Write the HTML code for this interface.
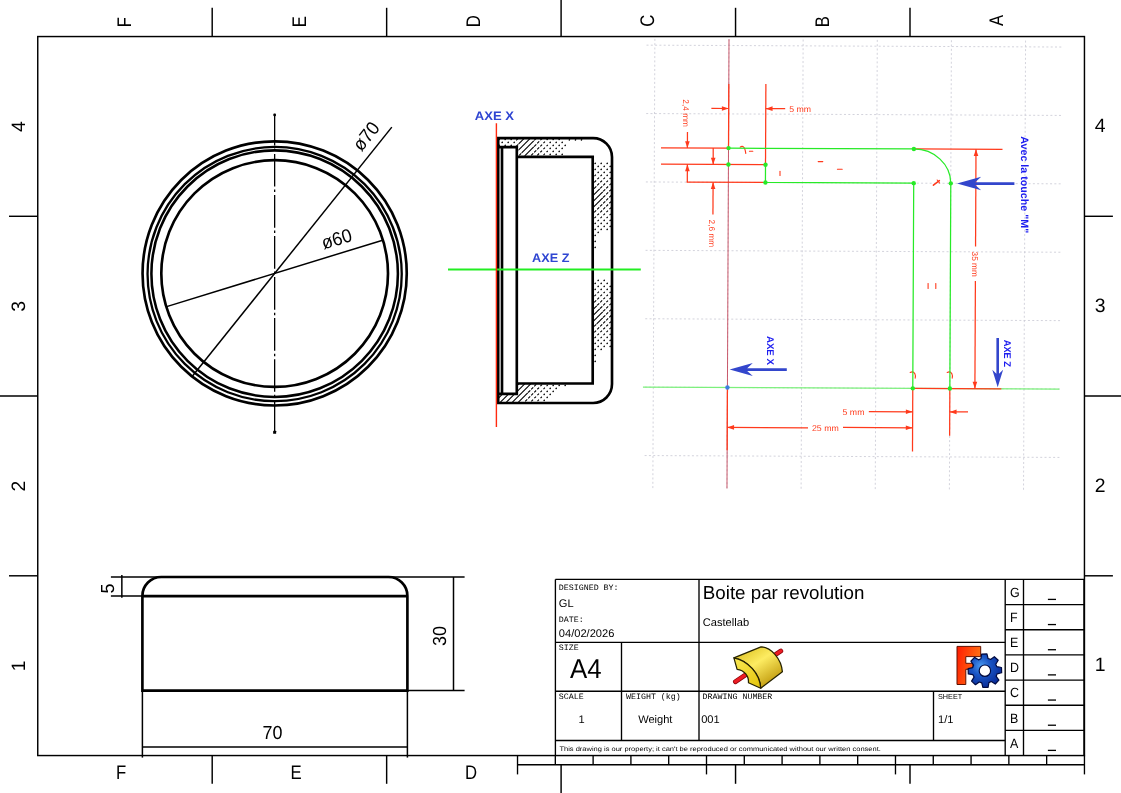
<!DOCTYPE html>
<html><head><meta charset="utf-8"><title>Boite par revolution</title>
<style>
html,body{margin:0;padding:0;background:#fff;}
svg{display:block;will-change:transform;}
text{font-family:"Liberation Sans",sans-serif;fill:#000;text-rendering:geometricPrecision;}
.k1{stroke:#000;stroke-width:1.5;fill:none;}
.lab text{font-size:19.4px;}
.dim{font-size:18.9px;}
.axl{font-size:12.2px;font-weight:bold;fill:#3046d2;}
.m{font-family:"Liberation Mono",monospace;font-size:8.3px;}
.s11{font-size:11.1px;}
</style></head><body>
<svg width="1121" height="793" viewBox="0 0 1121 793">
<rect x="0" y="0" width="1121" height="793" fill="#fff"/>
<g class="k1" style="stroke-width:1.45">
<rect x="37.75" y="36.55" width="1046.70" height="719.00" fill="none"/>
<line x1="212.20" y1="7.80" x2="212.20" y2="36.55"/>
<line x1="386.65" y1="7.80" x2="386.65" y2="36.55"/>
<line x1="561.10" y1="0.00" x2="561.10" y2="36.55"/>
<line x1="735.55" y1="7.80" x2="735.55" y2="36.55"/>
<line x1="910.00" y1="7.80" x2="910.00" y2="36.55"/>
<line x1="212.20" y1="755.55" x2="212.20" y2="783.80"/>
<line x1="386.65" y1="755.55" x2="386.65" y2="783.80"/>
<line x1="561.10" y1="764.70" x2="561.10" y2="793.00"/>
<line x1="735.55" y1="764.70" x2="735.55" y2="783.80"/>
<line x1="910.00" y1="764.70" x2="910.00" y2="783.80"/>
<line x1="9.00" y1="216.30" x2="37.75" y2="216.30"/>
<line x1="1084.45" y1="216.30" x2="1112.90" y2="216.30"/>
<line x1="0.00" y1="396.05" x2="37.75" y2="396.05"/>
<line x1="1084.45" y1="396.05" x2="1121.00" y2="396.05"/>
<line x1="9.00" y1="575.80" x2="37.75" y2="575.80"/>
<line x1="1084.45" y1="575.80" x2="1112.90" y2="575.80"/>
</g>
<g class="lab">
<text transform="translate(131.08,27.25) rotate(-90) scale(0.85,1)" style="font-size:19.7px">F</text>
<text transform="translate(116.08,778.55) scale(0.85,1)" style="font-size:19.7px">F</text>
<text transform="translate(305.53,27.25) rotate(-90) scale(0.85,1)" style="font-size:19.7px">E</text>
<text transform="translate(290.53,778.55) scale(0.85,1)" style="font-size:19.7px">E</text>
<text transform="translate(479.98,27.25) rotate(-90) scale(0.85,1)" style="font-size:19.7px">D</text>
<text transform="translate(464.98,778.55) scale(0.85,1)" style="font-size:19.7px">D</text>
<text transform="translate(654.43,26.7) rotate(-90) scale(0.85,1)" style="font-size:19.7px">C</text>
<text transform="translate(828.88,27.25) rotate(-90) scale(0.85,1)" style="font-size:19.7px">B</text>
<text transform="translate(1003.33,25.9) rotate(-90) scale(0.85,1)" style="font-size:19.7px">A</text>
<text transform="translate(25.4,126.63) rotate(-90)" text-anchor="middle">4</text>
<text x="1100.1" y="132.23" text-anchor="middle">4</text>
<text transform="translate(25.4,306.38) rotate(-90)" text-anchor="middle">3</text>
<text x="1100.1" y="311.98" text-anchor="middle">3</text>
<text transform="translate(25.4,486.12) rotate(-90)" text-anchor="middle">2</text>
<text x="1100.1" y="491.72" text-anchor="middle">2</text>
<text transform="translate(25.4,665.88) rotate(-90)" text-anchor="middle">1</text>
<text x="1100.1" y="671.47" text-anchor="middle">1</text>
</g>
<g fill="none" stroke="#000">
<circle cx="274.65" cy="273.40" r="132.1" stroke-width="2.65"/>
<circle cx="274.65" cy="274.05" r="127.1" stroke-width="2.3"/>
<circle cx="274.65" cy="273.65" r="123.25" stroke-width="2.55"/>
<circle cx="274.65" cy="273.55" r="113.35" stroke-width="2.65"/>
<line x1="274.65" y1="114.6" x2="274.65" y2="432.4" stroke-width="1.3" stroke-dasharray="32.7 2.9 2.5 2.95" stroke-dashoffset="1.75"/>
</g>
<rect x="273.35" y="113.6" width="2.6" height="2.6" rx="0.8"/>
<rect x="273.15" y="430.8" width="3.0" height="3.0" rx="0.4"/>
<g class="k1">
<line x1="192.09" y1="376.46" x2="391.82" y2="127.15"/>
<line x1="166.65" y1="306.63" x2="382.65" y2="240.17"/>
</g>
<text class="dim" transform="translate(371.13,140.17) rotate(-51.3) scale(0.95,1)" text-anchor="middle">ø70</text>
<text class="dim" transform="translate(338.54,245.06) rotate(-17.1) scale(0.95,1)" text-anchor="middle">ø60</text>
<g fill="none" stroke="#000" stroke-width="2.65" stroke-linejoin="miter">
<path d="M142.4,690.6 L142.4,596.1 L142.4,595.9 A18.9,18.9 0 0 1 161.3,577.0 L388.5,577.0 A18.9,18.9 0 0 1 407.4,595.9 L407.4,690.6 Z"/>
<line x1="142.40" y1="596.10" x2="407.40" y2="596.10"/>
</g>
<g class="k1">
<line x1="110.90" y1="577.00" x2="161.30" y2="577.00"/>
<line x1="110.90" y1="596.10" x2="142.40" y2="596.10"/>
<line x1="121.85" y1="575.00" x2="121.85" y2="597.80"/>
<line x1="388.50" y1="577.00" x2="464.60" y2="577.00"/>
<line x1="407.40" y1="690.60" x2="464.60" y2="690.60"/>
<line x1="453.50" y1="577.00" x2="453.50" y2="690.60"/>
<line x1="142.40" y1="690.60" x2="142.40" y2="757.60"/>
<line x1="407.40" y1="690.60" x2="407.40" y2="757.60"/>
<line x1="142.40" y1="747.00" x2="407.40" y2="747.00"/>
</g>
<text class="dim" transform="translate(272.5,739.1) scale(0.95,1)" text-anchor="middle">70</text>
<text class="dim" transform="translate(445.65,636.0) rotate(-90) scale(0.95,1)" text-anchor="middle">30</text>
<text class="dim" transform="translate(113.8,588.6) rotate(-90) scale(0.95,1)" text-anchor="middle">5</text>
<defs><clipPath id="mat"><path clip-rule="evenodd" d="M498.2,138.1 L593.1,138.1 A18.9,18.9 0 0 1 612.0,157.0 L612.0,384.1 A18.9,18.9 0 0 1 593.1,403.0 L498.2,403.0 L498.2,393.8 L516.8,393.8 L516.8,383.5 L592.7,383.5 L592.7,156.9 L516.8,156.9 L516.8,147.1 L498.2,147.1 Z"/></clipPath></defs>
<g clip-path="url(#mat)"><path d="M519.41,131.19L520.99,129.61M525.36,131.24L527.04,129.56M531.40,131.20L533.00,129.60M537.52,131.08L538.88,129.72M516.36,134.24L518.04,132.56M522.25,134.35L524.15,132.45M528.25,134.35L530.15,132.45M534.35,134.25L536.05,132.55M540.51,134.09L541.89,132.71M519.19,137.41L521.21,135.39M525.11,137.49L527.29,135.31M531.18,137.42L533.22,135.38M537.34,137.26L539.06,135.54M543.54,137.06L544.86,135.74M516.19,140.41L518.21,138.39M521.66,140.94L524.74,137.86M527.66,140.94L530.74,137.86M534.17,140.43L536.23,138.37M540.38,140.22L542.02,138.58M518.66,143.94L521.74,140.86M524.66,143.94L527.74,140.86M530.66,143.94L533.74,140.86M537.22,143.38L539.18,141.42M543.46,143.14L544.94,141.66M516.10,146.50L518.30,144.30M521.66,146.94L524.74,143.86M527.66,146.94L530.74,143.86M534.08,146.52L536.32,144.28M540.32,146.28L542.08,144.52M546.57,146.03L547.83,144.77M507.47,149.13L508.93,147.67M513.23,149.37L515.17,147.43M518.66,149.94L521.74,146.86M524.66,149.94L527.74,146.86M530.66,149.94L533.74,146.86M537.21,149.39L539.19,147.41M543.45,149.15L544.95,147.65M510.38,152.22L512.02,150.58M516.16,152.44L518.24,150.36M521.66,152.94L524.74,149.86M527.66,152.94L530.74,149.86M534.14,152.46L536.26,150.34M540.36,152.24L542.04,150.56M546.59,152.01L547.81,150.79M507.54,155.06L508.86,153.74M513.33,155.27L515.07,153.53M519.15,155.45L521.25,153.35M524.66,155.94L527.74,152.86M531.14,155.46L533.26,153.34M537.31,155.29L539.09,153.51M543.52,155.08L544.88,153.72M510.50,158.10L511.90,156.70M516.32,158.28L518.08,156.52M522.21,158.39L524.19,156.41M528.20,158.40L530.20,156.40M534.31,158.29L536.09,156.51M540.48,158.12L541.92,156.68M594.50,176.10L595.90,174.70M600.54,176.06L601.86,174.74M591.39,179.21L593.01,177.59M597.41,179.19L598.99,177.61M603.48,179.12L604.92,177.68M594.29,182.31L596.11,180.49M600.34,182.26L602.06,180.54M606.46,182.14L607.94,180.66M591.18,185.42L593.22,183.38M597.20,185.40L599.20,183.40M603.31,185.29L605.09,183.51M609.46,185.14L610.94,183.66M594.07,188.53L596.33,186.27M600.16,188.44L602.24,186.36M606.31,188.29L608.09,186.51M612.49,188.11L613.91,186.69M590.66,191.94L593.74,188.86M596.66,191.94L599.74,188.86M603.16,191.44L605.24,189.36M609.35,191.25L611.05,189.55M593.66,194.94L596.74,191.86M599.66,194.94L602.74,191.86M606.22,194.38L608.18,192.42M612.42,194.18L613.98,192.62M590.66,197.94L593.74,194.86M596.66,197.94L599.74,194.86M603.09,197.51L605.31,195.29M609.31,197.29L611.09,195.51M593.66,200.94L596.74,197.86M599.66,200.94L602.74,197.86M606.21,200.39L608.19,198.41M612.42,200.18L613.98,198.62M590.66,203.94L593.74,200.86M596.66,203.94L599.74,200.86M603.14,203.46L605.26,201.34M609.34,203.26L611.06,201.54M593.66,206.94L596.74,203.86M600.12,206.48L602.28,204.32M606.29,206.31L608.11,204.49M612.47,206.13L613.93,204.67M591.14,209.46L593.26,207.34M597.16,209.44L599.24,207.36M603.27,209.33L605.13,207.47M609.43,209.17L610.97,207.63M594.24,212.36L596.16,210.44M600.30,212.30L602.10,210.50M606.42,212.18L607.98,210.62M612.58,212.02L613.82,210.78M591.35,215.25L593.05,213.55M597.37,215.23L599.03,213.57M603.45,215.15L604.95,213.65M609.57,215.03L610.83,213.77M594.46,218.14L595.94,216.66M600.50,218.10L601.90,216.70M606.59,218.01L607.81,216.79M591.56,221.04L592.84,219.76M597.57,221.03L598.83,219.77M591.52,293.08L592.88,291.72M597.53,293.07L598.87,291.73M603.59,293.01L604.81,291.79M594.41,296.19L595.99,294.61M600.45,296.15L601.95,294.65M606.55,296.05L607.85,294.75M591.31,299.29L593.09,297.51M597.32,299.28L599.08,297.52M603.41,299.19L604.99,297.61M609.54,299.06L610.86,297.74M594.20,302.40L596.20,300.40M600.26,302.34L602.14,300.46M606.39,302.21L608.01,300.59M612.55,302.05L613.85,300.75M591.10,305.50L593.30,303.30M597.12,305.48L599.28,303.32M603.24,305.36L605.16,303.44M609.41,305.19L610.99,303.61M593.66,308.94L596.74,305.86M600.09,308.51L602.31,306.29M606.26,308.34L608.14,306.46M612.46,308.14L613.94,306.66M590.66,311.94L593.74,308.86M596.66,311.94L599.74,308.86M603.12,311.48L605.28,309.32M609.32,311.28L611.08,309.52M593.66,314.94L596.74,311.86M599.66,314.94L602.74,311.86M606.20,314.40L608.20,312.40M612.41,314.19L613.99,312.61M590.66,317.94L593.74,314.86M596.66,317.94L599.74,314.86M603.10,317.50L605.30,315.30M609.31,317.29L611.09,315.51M593.66,320.94L596.74,317.86M599.66,320.94L602.74,317.86M606.23,320.37L608.17,318.43M612.43,320.17L613.97,318.63M590.66,323.94L593.74,320.86M596.66,323.94L599.74,320.86M603.19,323.41L605.21,321.39M609.37,323.23L611.03,321.57M594.12,326.48L596.28,324.32M600.19,326.41L602.21,324.39M606.34,326.26L608.06,324.54M612.51,326.09L613.89,324.71M591.23,329.37L593.17,327.43M597.25,329.35L599.15,327.45M603.34,329.26L605.06,327.54M609.49,329.11L610.91,327.69M594.33,332.27L596.07,330.53M600.38,332.22L602.02,330.58M606.49,332.11L607.91,330.69M591.44,335.16L592.96,333.64M597.45,335.15L598.95,333.65M603.52,335.08L604.88,333.72M594.54,338.06L595.86,336.74M600.58,338.02L601.82,336.78M494.66,383.94L497.74,380.86M500.66,383.94L503.74,380.86M506.66,383.94L509.74,380.86M512.66,383.94L515.74,380.86M518.66,383.94L521.74,380.86M524.66,383.94L527.74,380.86M531.07,383.53L533.33,381.27M537.26,383.34L539.14,381.46M543.44,383.16L544.96,381.64M497.66,386.94L500.74,383.86M503.66,386.94L506.74,383.86M509.66,386.94L512.74,383.86M515.66,386.94L518.74,383.86M521.66,386.94L524.74,383.86M527.66,386.94L530.74,383.86M534.21,386.39L536.19,384.41M540.39,386.21L542.01,384.59M546.58,386.02L547.82,384.78M494.66,389.94L497.74,386.86M500.66,389.94L503.74,386.86M506.66,389.94L509.74,386.86M512.66,389.94L515.74,386.86M518.66,389.94L521.74,386.86M524.66,389.94L527.74,386.86M531.15,389.45L533.25,387.35M537.34,389.26L539.06,387.54M543.53,389.07L544.87,387.73M497.66,392.94L500.74,389.86M503.66,392.94L506.74,389.86M509.66,392.94L512.74,389.86M515.66,392.94L518.74,389.86M521.66,392.94L524.74,389.86M528.10,392.50L530.30,390.30M534.29,392.31L536.11,390.49M540.48,392.12L541.92,390.68M494.66,395.94L497.74,392.86M500.66,395.94L503.74,392.86M506.66,395.94L509.74,392.86M512.66,395.94L515.74,392.86M518.66,395.94L521.74,392.86M524.66,395.94L527.74,392.86M531.24,395.36L533.16,393.44M537.43,395.17L538.97,393.63M497.66,398.94L500.74,395.86M503.66,398.94L506.74,395.86M509.66,398.94L512.74,395.86M515.66,398.94L518.74,395.86M521.66,398.94L524.74,395.86M528.19,398.41L530.21,396.39M534.38,398.22L536.02,396.58M540.56,398.04L541.84,396.76M494.66,401.94L497.74,398.86M500.66,401.94L503.74,398.86M506.66,401.94L509.74,398.86M512.66,401.94L515.74,398.86M518.66,401.94L521.74,398.86M525.14,401.46L527.26,399.34M531.33,401.27L533.07,399.53M537.51,401.09L538.89,399.71M497.66,404.94L500.74,401.86M503.66,404.94L506.74,401.86M509.66,404.94L512.74,401.86M515.66,404.94L518.74,401.86M522.09,404.51L524.31,402.29M528.28,404.32L530.12,402.48M534.46,404.14L535.94,402.66M494.66,407.94L497.74,404.86M500.66,407.94L503.74,404.86M506.66,407.94L509.74,404.86M512.66,407.94L515.74,404.86M518.66,407.94L521.74,404.86M525.23,407.37L527.17,405.43M531.41,407.19L532.99,405.61M497.66,410.94L500.74,407.86M503.66,410.94L506.74,407.86M509.66,410.94L512.74,407.86M515.66,410.94L518.74,407.86M522.18,410.42L524.22,408.38M528.36,410.24L530.04,408.56M534.55,410.05L535.85,408.75M494.66,413.94L497.74,410.86M500.66,413.94L503.74,410.86M506.66,413.94L509.74,410.86M512.66,413.94L515.74,410.86M519.12,413.48L521.28,411.32M525.31,413.29L527.09,411.51M531.50,413.10L532.90,411.70M497.66,416.94L500.74,413.86M503.66,416.94L506.74,413.86M509.66,416.94L512.74,413.86M516.07,416.53L518.33,414.27M522.26,416.34L524.14,414.46M528.45,416.15L529.95,414.65M494.66,419.94L497.74,416.86M500.66,419.94L503.74,416.86M506.66,419.94L509.74,416.86M512.66,419.94L515.74,416.86M519.21,419.39L521.19,417.41M525.40,419.20L527.00,417.60M531.59,419.01L532.81,417.79M497.66,422.94L500.74,419.86M503.66,422.94L506.74,419.86M509.66,422.94L512.74,419.86M516.16,422.44L518.24,420.36M522.35,422.25L524.05,420.55M528.53,422.07L529.87,420.73M494.66,425.94L497.74,422.86M500.66,425.94L503.74,422.86M506.66,425.94L509.74,422.86M513.11,425.49L515.29,423.31M519.30,425.30L521.10,423.50M525.48,425.12L526.92,423.68" stroke="#000" stroke-width="1.1" fill="none" stroke-linecap="butt"/>
<path d="M496.08,130.52l0.24,-0.24M502.08,130.52l0.24,-0.24M508.08,130.52l0.24,-0.24M514.08,130.52l0.24,-0.24M544.08,130.52l0.24,-0.24M550.08,130.52l0.24,-0.24M556.08,130.52l0.24,-0.24M562.08,130.52l0.24,-0.24M499.08,133.52l0.24,-0.24M505.08,133.52l0.24,-0.24M511.08,133.52l0.24,-0.24M547.08,133.52l0.24,-0.24M553.08,133.52l0.24,-0.24M559.08,133.52l0.24,-0.24M496.08,136.52l0.24,-0.24M502.08,136.52l0.24,-0.24M508.08,136.52l0.24,-0.24M514.08,136.52l0.24,-0.24M550.08,136.52l0.24,-0.24M556.08,136.52l0.24,-0.24M562.08,136.52l0.24,-0.24M499.08,139.52l0.24,-0.24M505.08,139.52l0.24,-0.24M511.08,139.52l0.24,-0.24M547.08,139.52l0.24,-0.24M553.08,139.52l0.24,-0.24M559.08,139.52l0.24,-0.24M496.08,142.52l0.24,-0.24M502.08,142.52l0.24,-0.24M508.08,142.52l0.24,-0.24M514.08,142.52l0.24,-0.24M550.08,142.52l0.24,-0.24M556.08,142.52l0.24,-0.24M562.08,142.52l0.24,-0.24M499.08,145.52l0.24,-0.24M505.08,145.52l0.24,-0.24M511.08,145.52l0.24,-0.24M553.08,145.52l0.24,-0.24M559.08,145.52l0.24,-0.24M565.08,145.52l0.24,-0.24M496.08,148.52l0.24,-0.24M502.08,148.52l0.24,-0.24M550.08,148.52l0.24,-0.24M556.08,148.52l0.24,-0.24M562.08,148.52l0.24,-0.24M499.08,151.52l0.24,-0.24M505.08,151.52l0.24,-0.24M553.08,151.52l0.24,-0.24M559.08,151.52l0.24,-0.24M496.08,154.52l0.24,-0.24M502.08,154.52l0.24,-0.24M550.08,154.52l0.24,-0.24M556.08,154.52l0.24,-0.24M562.08,154.52l0.24,-0.24M499.08,157.52l0.24,-0.24M505.08,157.52l0.24,-0.24M547.08,157.52l0.24,-0.24M553.08,157.52l0.24,-0.24M559.08,157.52l0.24,-0.24M595.08,163.52l0.24,-0.24M601.08,163.52l0.24,-0.24M607.08,163.52l0.24,-0.24M592.08,166.52l0.24,-0.24M598.08,166.52l0.24,-0.24M604.08,166.52l0.24,-0.24M610.08,166.52l0.24,-0.24M595.08,169.52l0.24,-0.24M601.08,169.52l0.24,-0.24M607.08,169.52l0.24,-0.24M613.08,169.52l0.24,-0.24M592.08,172.52l0.24,-0.24M598.08,172.52l0.24,-0.24M604.08,172.52l0.24,-0.24M610.08,172.52l0.24,-0.24M607.08,175.52l0.24,-0.24M613.08,175.52l0.24,-0.24M610.08,178.52l0.24,-0.24M613.08,181.52l0.24,-0.24M613.08,217.52l0.24,-0.24M604.08,220.52l0.24,-0.24M610.08,220.52l0.24,-0.24M595.08,223.52l0.24,-0.24M601.08,223.52l0.24,-0.24M607.08,223.52l0.24,-0.24M613.08,223.52l0.24,-0.24M592.08,226.52l0.24,-0.24M598.08,226.52l0.24,-0.24M604.08,226.52l0.24,-0.24M610.08,226.52l0.24,-0.24M595.08,229.52l0.24,-0.24M601.08,229.52l0.24,-0.24M607.08,229.52l0.24,-0.24M592.08,232.52l0.24,-0.24M598.08,232.52l0.24,-0.24M595.08,235.52l0.24,-0.24M595.08,241.52l0.24,-0.24M595.08,247.52l0.24,-0.24M592.08,280.52l0.24,-0.24M598.08,280.52l0.24,-0.24M604.08,280.52l0.24,-0.24M595.08,283.52l0.24,-0.24M601.08,283.52l0.24,-0.24M607.08,283.52l0.24,-0.24M592.08,286.52l0.24,-0.24M598.08,286.52l0.24,-0.24M604.08,286.52l0.24,-0.24M610.08,286.52l0.24,-0.24M595.08,289.52l0.24,-0.24M601.08,289.52l0.24,-0.24M607.08,289.52l0.24,-0.24M613.08,289.52l0.24,-0.24M610.08,292.52l0.24,-0.24M613.08,295.52l0.24,-0.24M613.08,331.52l0.24,-0.24M610.08,334.52l0.24,-0.24M607.08,337.52l0.24,-0.24M613.08,337.52l0.24,-0.24M592.08,340.52l0.24,-0.24M598.08,340.52l0.24,-0.24M604.08,340.52l0.24,-0.24M610.08,340.52l0.24,-0.24M595.08,343.52l0.24,-0.24M601.08,343.52l0.24,-0.24M607.08,343.52l0.24,-0.24M613.08,343.52l0.24,-0.24M592.08,346.52l0.24,-0.24M598.08,346.52l0.24,-0.24M604.08,346.52l0.24,-0.24M610.08,346.52l0.24,-0.24M595.08,349.52l0.24,-0.24M601.08,349.52l0.24,-0.24M595.08,355.52l0.24,-0.24M595.08,361.52l0.24,-0.24M550.08,382.52l0.24,-0.24M556.08,382.52l0.24,-0.24M562.08,382.52l0.24,-0.24M568.08,382.52l0.24,-0.24M553.08,385.52l0.24,-0.24M559.08,385.52l0.24,-0.24M565.08,385.52l0.24,-0.24M550.08,388.52l0.24,-0.24M556.08,388.52l0.24,-0.24M547.08,391.52l0.24,-0.24M553.08,391.52l0.24,-0.24M544.08,394.52l0.24,-0.24M550.08,394.52l0.24,-0.24M547.08,397.52l0.24,-0.24M544.08,400.52l0.24,-0.24M541.08,403.52l0.24,-0.24M538.08,406.52l0.24,-0.24M569.28,140.02l0.24,-0.24M575.38,140.02l0.24,-0.24M581.38,140.02l0.24,-0.24" stroke="#000" stroke-width="1.35" fill="none" stroke-linecap="round"/></g>
<g fill="none" stroke="#000" stroke-width="2.65" stroke-linejoin="miter">
<path d="M498.2,138.1 L593.1,138.1 A18.9,18.9 0 0 1 612.0,157.0 L612.0,384.1 A18.9,18.9 0 0 1 593.1,403.0 L498.2,403.0 Z"/>
<path d="M498.2,147.1 L516.8,147.1 L516.8,393.8 L498.2,393.8"/>
<path d="M516.8,156.9 L592.7,156.9 L592.7,383.5 L516.8,383.5"/>
<line x1="502.00" y1="147.10" x2="502.00" y2="393.80"/>
</g>
<line x1="448" y1="269.5" x2="640.8" y2="269.5" stroke="#22ee22" stroke-width="2.2"/>
<line x1="496.4" y1="123.2" x2="496.4" y2="427" stroke="#ff2a10" stroke-width="1.4"/>
<text class="axl" x="474.8" y="119.8" textLength="39.2" lengthAdjust="spacingAndGlyphs">AXE X</text>
<text class="axl" x="532.1" y="261.5" textLength="37.3" lengthAdjust="spacingAndGlyphs">AXE Z</text>
<g stroke="#cbcbd6" stroke-width="0.85" stroke-dasharray="2.0 2.3" fill="none">
<line x1="654.87" y1="38.89" x2="652.84" y2="488.08"/>
<line x1="729.01" y1="39.23" x2="726.97" y2="488.42"/>
<line x1="803.15" y1="39.56" x2="801.11" y2="488.76"/>
<line x1="877.29" y1="39.90" x2="875.25" y2="489.09"/>
<line x1="951.43" y1="40.24" x2="949.39" y2="489.43"/>
<line x1="1025.57" y1="40.57" x2="1023.53" y2="489.77"/>
<line x1="646.50" y1="45.15" x2="1061.49" y2="47.03"/>
<line x1="646.19" y1="113.55" x2="1061.18" y2="115.43"/>
<line x1="645.87" y1="181.95" x2="1060.87" y2="183.83"/>
<line x1="645.56" y1="250.35" x2="1060.56" y2="252.23"/>
<line x1="645.25" y1="318.75" x2="1060.25" y2="320.63"/>
<line x1="644.94" y1="387.15" x2="1059.94" y2="389.03"/>
<line x1="644.63" y1="455.55" x2="1059.63" y2="457.43"/>
</g>
<line x1="729.01" y1="39.23" x2="726.97" y2="488.42" stroke="#c4485c" stroke-width="0.9"/>
<line x1="642.94" y1="387.14" x2="1059.44" y2="389.03" stroke="#7cf07c" stroke-width="1.3"/>
<g stroke="#ff3a1c" stroke-width="1.25" fill="none">
<line x1="728.81" y1="84.00" x2="728.52" y2="148.12"/>
<line x1="765.88" y1="84.00" x2="765.51" y2="164.71"/>
<line x1="661.00" y1="147.82" x2="728.52" y2="148.12"/>
<line x1="661.00" y1="164.23" x2="765.51" y2="164.71"/>
<line x1="686.70" y1="182.14" x2="765.43" y2="182.49"/>
<line x1="913.87" y1="148.97" x2="1002.50" y2="149.37"/>
<line x1="976.00" y1="149.25" x2="975.56" y2="246.40"/>
<line x1="975.40" y1="281.00" x2="974.91" y2="388.65"/>
<line x1="912.78" y1="388.36" x2="1001.40" y2="388.77"/>
<line x1="727.43" y1="387.52" x2="727.15" y2="450.30"/>
<line x1="912.78" y1="388.36" x2="912.49" y2="451.50"/>
<line x1="949.85" y1="388.53" x2="949.64" y2="435.80"/>
<line x1="711.40" y1="108.42" x2="728.70" y2="108.50"/>
<line x1="765.77" y1="108.65" x2="785.20" y2="108.74"/>
<line x1="687.47" y1="132.00" x2="687.40" y2="147.94"/>
<line x1="687.40" y1="164.35" x2="687.30" y2="182.14"/>
<line x1="713.20" y1="148.06" x2="713.20" y2="164.47"/>
<line x1="713.10" y1="182.26" x2="712.95" y2="214.50"/>
<line x1="868.80" y1="411.60" x2="912.67" y2="411.80"/>
<line x1="949.74" y1="411.90" x2="968.00" y2="411.98"/>
<line x1="727.25" y1="427.40" x2="808.00" y2="427.77"/>
<line x1="843.00" y1="427.48" x2="912.60" y2="427.80"/>
</g>
<polygon points="728.70,108.50 721.90,106.20 721.90,110.80" fill="#ff3a1c"/>
<polygon points="765.77,108.65 772.57,106.35 772.57,110.95" fill="#ff3a1c"/>
<polygon points="687.40,147.94 685.10,141.14 689.70,141.14" fill="#ff3a1c"/>
<polygon points="687.40,164.35 685.10,171.15 689.70,171.15" fill="#ff3a1c"/>
<polygon points="713.20,164.47 710.90,157.67 715.50,157.67" fill="#ff3a1c"/>
<polygon points="713.10,182.26 710.80,189.06 715.40,189.06" fill="#ff3a1c"/>
<polygon points="976.00,149.25 973.70,156.05 978.30,156.05" fill="#ff3a1c"/>
<polygon points="974.91,388.65 972.61,381.85 977.21,381.85" fill="#ff3a1c"/>
<polygon points="912.67,411.80 905.87,409.50 905.87,414.10" fill="#ff3a1c"/>
<polygon points="949.74,411.90 956.54,409.60 956.54,414.20" fill="#ff3a1c"/>
<polygon points="727.25,427.40 734.05,425.10 734.05,429.70" fill="#ff3a1c"/>
<polygon points="912.60,427.80 905.80,425.50 905.80,430.10" fill="#ff3a1c"/>
<g style="font-size:8.4px">
<text x="789.3" y="111.9" style="fill:#ff3a1c" textLength="21.8" lengthAdjust="spacingAndGlyphs">5 mm</text>
<text x="842.6" y="414.9" style="fill:#ff3a1c" textLength="21.8" lengthAdjust="spacingAndGlyphs">5 mm</text>
<text x="812" y="430.7" style="fill:#ff3a1c" textLength="26.8" lengthAdjust="spacingAndGlyphs">25 mm</text>
<text transform="translate(683.2,99.3) rotate(90)" style="fill:#ff3a1c" textLength="27.7" lengthAdjust="spacingAndGlyphs">2,4 mm</text>
<text transform="translate(709.0,219.6) rotate(90)" style="fill:#ff3a1c" textLength="27.7" lengthAdjust="spacingAndGlyphs">2,6 mm</text>
<text transform="translate(972.2,251.6) rotate(90)" style="fill:#ff3a1c" textLength="25.2" lengthAdjust="spacingAndGlyphs">35 mm</text>
</g>
<g stroke="#ff3a1c" stroke-width="1.1" fill="none" stroke-linecap="round">
<line x1="818.20" y1="161.60" x2="822.80" y2="161.60"/>
<line x1="837.40" y1="169.20" x2="842.20" y2="169.20"/>
<line x1="780.00" y1="171.40" x2="780.00" y2="175.40"/>
<line x1="749.40" y1="151.30" x2="752.80" y2="151.30"/>
<path d="M740.2,147.2 q2.2,-2.0 4.0,0.6 q1.4,2.4 1.6,5.6"/>
<line x1="933.40" y1="185.20" x2="939.40" y2="180.60" stroke-width="1.5"/>
<line x1="937.20" y1="180.00" x2="939.60" y2="183.00"/>
<line x1="928.10" y1="283.60" x2="928.10" y2="288.40"/>
<line x1="935.80" y1="283.60" x2="935.80" y2="288.40"/>
<path d="M910.2,372.4 q3.0,-1.4 4.6,1.2 q1.0,2.0 0.4,4.6"/>
<path d="M947.2,372.4 q3.0,-1.4 4.6,1.2 q1.0,2.0 0.4,4.6"/>
</g>
<g stroke="#27ea27" stroke-width="1.25" fill="none">
<path d="M728.52,148.12 L913.87,148.97 A37.07,34.20 0.26 0 1 950.78,183.33 L949.85,388.53"/>
<path d="M765.51,164.71 L765.43,182.49 L913.71,183.17 L912.78,388.36"/>
</g>
<g fill="#27ea27">
<circle cx="728.52" cy="148.12" r="2.2"/>
<circle cx="728.44" cy="164.54" r="2.2"/>
<circle cx="765.51" cy="164.71" r="2.2"/>
<circle cx="765.43" cy="182.49" r="2.2"/>
<circle cx="913.87" cy="148.97" r="2.2"/>
<circle cx="913.71" cy="183.17" r="2.2"/>
<circle cx="950.78" cy="183.33" r="2.2"/>
<circle cx="912.78" cy="388.36" r="2.2"/>
<circle cx="949.85" cy="388.53" r="2.2"/>
</g>
<circle cx="727.43" cy="387.52" r="2.2" fill="#3d7fe0"/>
<g fill="#3346cc" stroke="none">
<path d="M957.0,183.5 L981.2,176.7 L975.2,182.2 L1014.4,182.2 L1014.4,184.9 L975.2,184.9 L981.2,190.3 Z"/>
<path d="M729.6,369.5 L752.8,363.1 L747.2,368.2 L786.8,368.2 L786.8,370.9 L747.2,370.9 L752.8,375.9 Z"/>
<path d="M997.7,387.2 L992.3,369.8 L996.4,373.8 L996.4,338.0 L999.0,338.0 L999.0,373.8 L1003.1,369.8 Z"/>
</g>
<text transform="translate(1020.6,136.2) rotate(90)" style="fill:#1c1cf0;font-weight:bold;font-size:10.7px" textLength="97" lengthAdjust="spacingAndGlyphs">Avec la touche "M"</text>
<text transform="translate(1003.8,339.7) rotate(90)" style="fill:#1c1cf0;font-weight:bold;font-size:9.8px" textLength="27.3" lengthAdjust="spacingAndGlyphs">AXE Z</text>
<text transform="translate(767.4,335.9) rotate(90)" style="fill:#1c1cf0;font-weight:bold;font-size:9.8px" textLength="29.1" lengthAdjust="spacingAndGlyphs">AXE X</text>
<g class="k1" style="stroke-width:1.35">
<line x1="555.40" y1="579.40" x2="1084.45" y2="579.40"/>
<line x1="555.40" y1="579.40" x2="555.40" y2="755.55"/>
<line x1="1083.90" y1="579.40" x2="1083.90" y2="755.55" stroke-width="1.2"/>
<line x1="555.40" y1="642.30" x2="1005.20" y2="642.30"/>
<line x1="555.40" y1="691.20" x2="1005.20" y2="691.20"/>
<line x1="555.40" y1="740.50" x2="1005.20" y2="740.50"/>
<line x1="621.50" y1="642.30" x2="621.50" y2="740.50"/>
<line x1="699.00" y1="579.40" x2="699.00" y2="740.50"/>
<line x1="933.50" y1="691.20" x2="933.50" y2="740.50"/>
<line x1="1005.20" y1="579.40" x2="1005.20" y2="755.55"/>
<line x1="1023.50" y1="579.40" x2="1023.50" y2="755.55"/>
<line x1="1005.20" y1="604.56" x2="1084.45" y2="604.56"/>
<line x1="1005.20" y1="629.73" x2="1084.45" y2="629.73"/>
<line x1="1005.20" y1="654.89" x2="1084.45" y2="654.89"/>
<line x1="1005.20" y1="680.06" x2="1084.45" y2="680.06"/>
<line x1="1005.20" y1="705.22" x2="1084.45" y2="705.22"/>
<line x1="1005.20" y1="730.39" x2="1084.45" y2="730.39"/>
<line x1="517.52" y1="764.70" x2="1084.45" y2="764.70"/>
<line x1="517.52" y1="755.55" x2="517.52" y2="774.40"/>
<line x1="555.32" y1="755.55" x2="555.32" y2="764.70"/>
<line x1="593.12" y1="755.55" x2="593.12" y2="764.70"/>
<line x1="630.91" y1="755.55" x2="630.91" y2="764.70"/>
<line x1="668.70" y1="755.55" x2="668.70" y2="764.70"/>
<line x1="706.50" y1="755.55" x2="706.50" y2="774.40"/>
<line x1="744.29" y1="755.55" x2="744.29" y2="764.70"/>
<line x1="782.09" y1="755.55" x2="782.09" y2="764.70"/>
<line x1="819.88" y1="755.55" x2="819.88" y2="764.70"/>
<line x1="857.68" y1="755.55" x2="857.68" y2="764.70"/>
<line x1="895.48" y1="755.55" x2="895.48" y2="774.40"/>
<line x1="933.27" y1="755.55" x2="933.27" y2="764.70"/>
<line x1="971.07" y1="755.55" x2="971.07" y2="764.70"/>
<line x1="1008.86" y1="755.55" x2="1008.86" y2="764.70"/>
<line x1="1046.65" y1="755.55" x2="1046.65" y2="764.70"/>
<line x1="1084.45" y1="755.55" x2="1084.45" y2="774.40"/>
</g>
<text transform="translate(1009.9,596.80) scale(0.93,1)" style="font-size:13.4px">G</text>
<rect x="1047.9" y="598.75" width="8.1" height="1.3" fill="#000"/>
<text transform="translate(1009.9,621.96) scale(0.93,1)" style="font-size:13.4px">F</text>
<rect x="1047.9" y="623.91" width="8.1" height="1.3" fill="#000"/>
<text transform="translate(1009.9,647.13) scale(0.93,1)" style="font-size:13.4px">E</text>
<rect x="1047.9" y="649.08" width="8.1" height="1.3" fill="#000"/>
<text transform="translate(1009.9,672.29) scale(0.93,1)" style="font-size:13.4px">D</text>
<rect x="1047.9" y="674.24" width="8.1" height="1.3" fill="#000"/>
<text transform="translate(1009.9,697.46) scale(0.93,1)" style="font-size:13.4px">C</text>
<rect x="1047.9" y="699.41" width="8.1" height="1.3" fill="#000"/>
<text transform="translate(1009.9,722.62) scale(0.93,1)" style="font-size:13.4px">B</text>
<rect x="1047.9" y="724.57" width="8.1" height="1.3" fill="#000"/>
<text transform="translate(1009.9,747.79) scale(0.93,1)" style="font-size:13.4px">A</text>
<rect x="1047.9" y="749.74" width="8.1" height="1.3" fill="#000"/>
<g class="m">
<text class="m" x="558.8" y="590.0">DESIGNED BY:</text>
<text class="m" x="558.8" y="621.8">DATE:</text>
<text class="m" x="558.8" y="650.4">SIZE</text>
<text class="m" x="558.8" y="698.9">SCALE</text>
<text class="m" x="626.0" y="698.9">WEIGHT (kg)</text>
<text class="m" x="702.6" y="698.9">DRAWING NUMBER</text>
</g>
<text x="938.0" y="698.9" style="font-size:7.25px">SHEET</text>
<text class="s11" x="558.8" y="606.8">GL</text>
<text class="s11" x="558.8" y="637.1">04/02/2026</text>
<text transform="translate(570.0,677.6) scale(0.95,1)" style="font-size:27.2px">A4</text>
<text class="s11" x="581.6" y="723.1" text-anchor="middle">1</text>
<text class="s11" x="655.3" y="723.1" text-anchor="middle">Weight</text>
<text class="s11" x="701.2" y="722.7">001</text>
<text class="s11" x="938.0" y="723.1">1/1</text>
<text x="702.8" y="599.3" style="font-size:18.75px">Boite par revolution</text>
<text class="s11" x="702.8" y="626.2">Castellab</text>
<text x="559.4" y="751.3" style="font-size:6.4px" textLength="321.5" lengthAdjust="spacingAndGlyphs">This drawing is our property; it can't be reproduced or communicated without our written consent.</text>
<defs><linearGradient id="yg1" x1="0.1" y1="0.1" x2="0.8" y2="1"><stop offset="0" stop-color="#dfc324"/><stop offset="0.4" stop-color="#fdec62"/><stop offset="1" stop-color="#b88e00"/></linearGradient><linearGradient id="yg2" x1="0" y1="0" x2="1" y2="1"><stop offset="0" stop-color="#fbea55"/><stop offset="1" stop-color="#e3c30a"/></linearGradient></defs>
<g stroke-linecap="round" fill="none">
<line x1="735.4" y1="681.7" x2="780.8" y2="651.0" stroke="#8c060c" stroke-width="4.8"/>
<line x1="735.4" y1="681.7" x2="780.8" y2="651.0" stroke="#ec1c24" stroke-width="3.3"/>
</g>
<path d="M733.9,657.8 L761.0,646.8 C771.0,647.0 781.5,659.0 782.4,671.8 L760.7,688.2 C760.0,674.0 748.0,660.5 733.9,657.8 Z" fill="url(#yg1)" stroke="#262200" stroke-width="1.25" stroke-linejoin="round"/>
<path d="M733.9,657.8 C748.0,660.5 760.0,674.0 760.7,688.2 L748.5,682.8 C749.0,676.5 744.5,670.0 737.1,669.3 Z" fill="url(#yg2)" stroke="#262200" stroke-width="1.25" stroke-linejoin="round"/>
<defs><linearGradient id="fg" x1="0" y1="0" x2="1" y2="0.35"><stop offset="0" stop-color="#ff1a00"/><stop offset="1" stop-color="#ff7414"/></linearGradient><radialGradient id="gg" cx="0.38" cy="0.36" r="0.62"><stop offset="0" stop-color="#4a9af0"/><stop offset="0.45" stop-color="#1a55c4"/><stop offset="1" stop-color="#0a2f9c"/></radialGradient></defs>
<path d="M957.0,646.4 L980.7,646.4 L980.7,656.6 L965.8,656.6 L965.8,663.3 L973.0,663.3 L973.0,669.3 L965.8,669.3 L965.8,684.5 L957.0,684.5 Z" fill="url(#fg)" stroke="#5e1000" stroke-width="1.0" stroke-linejoin="miter"/>
<path d="M980.90,658.75 L981.68,654.11 L986.96,653.93 L988.05,658.50 L990.52,659.42 L994.35,656.69 L998.22,660.30 L995.76,664.31 L996.85,666.70 L1001.49,667.48 L1001.67,672.76 L997.10,673.85 L996.18,676.32 L998.91,680.15 L995.30,684.02 L991.29,681.56 L988.90,682.65 L988.12,687.29 L982.84,687.47 L981.75,682.90 L979.28,681.98 L975.45,684.71 L971.58,681.10 L974.04,677.09 L972.95,674.70 L968.31,673.92 L968.13,668.64 L972.70,667.55 L973.62,665.08 L970.89,661.25 L974.50,657.38 L978.51,659.84 Z M990.60,670.70 A5.7,5.7 0 1 0 979.20,670.70 A5.7,5.7 0 1 0 990.60,670.70 Z" fill="url(#gg)" fill-rule="evenodd" stroke="#000a40" stroke-width="1.2" stroke-linejoin="round"/>
</svg>
</body></html>
